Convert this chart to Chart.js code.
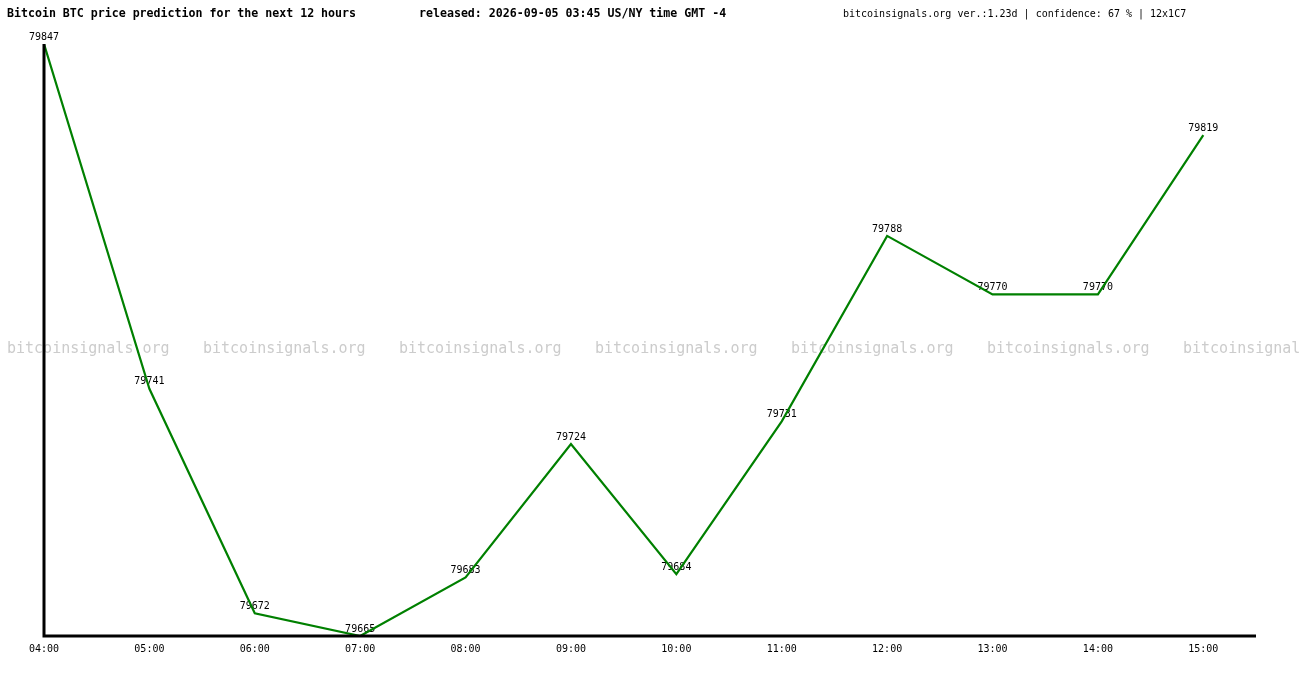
<!DOCTYPE html>
<html><head><meta charset="utf-8">
<script src="https://cdn.jsdelivr.net/npm/chart.js@4/dist/chart.umd.min.js"></script>
<style>html,body{margin:0;padding:0;background:#fff;}#wrap{width:1300px;height:680px;}</style>
</head><body><div id="wrap"><canvas id="c" width="1300" height="680"></canvas></div>
<script>
const hours = ["04:00","05:00","06:00","07:00","08:00","09:00","10:00","11:00","12:00","13:00","14:00","15:00"];
const prices = [79847,79741,79672,79665,79683,79724,79684,79731,79788,79770,79770,79819];
const titleLeft = "Bitcoin BTC price prediction for the next 12 hours";
const titleMid = "released: 2026-09-05 03:45 US/NY time GMT -4";
const titleRight = "bitcoinsignals.org ver.:1.23d | confidence: 67 % | 12x1C7";
const watermark = "bitcoinsignals.org";

const MONO = '"DejaVu Sans Mono", "Liberation Mono", monospace';

const bgPlugin = {
  id: 'bg',
  beforeDraw(chart) {
    const ctx = chart.ctx;
    ctx.save();
    ctx.fillStyle = '#fff';
    ctx.fillRect(0, 0, chart.width, chart.height);
    ctx.font = '15px ' + MONO;
    ctx.fillStyle = '#cccccc';
    ctx.textBaseline = 'middle';
    ctx.textAlign = 'left';
    for (let x = 7; x < chart.width; x += 196) ctx.fillText(watermark, x, 349);
    ctx.fillStyle = '#000';
    ctx.font = 'bold 11.6px ' + MONO;
    ctx.fillText(titleLeft, 7, 14);
    ctx.fillText(titleMid, 419, 14);
    ctx.font = '10px ' + MONO;
    ctx.fillText(titleRight, 843, 14);
    ctx.restore();
  },
  beforeDatasetsDraw(chart) {
    const ctx = chart.ctx;
    const meta = chart.getDatasetMeta(0);
    ctx.save();
    ctx.font = '10px ' + MONO;
    ctx.fillStyle = '#000';
    ctx.textAlign = 'center';
    ctx.textBaseline = 'middle';
    meta.data.forEach((p, i) => {
      ctx.fillText(String(prices[i]), p.x, p.y - 7);
    });
    ctx.restore();
  },
  afterDatasetsDraw(chart) {
    const ctx = chart.ctx, a = chart.chartArea;
    ctx.save();
    ctx.strokeStyle = '#000';
    ctx.lineWidth = 3;
    ctx.beginPath();
    ctx.moveTo(a.left, a.top);
    ctx.lineTo(a.left, a.bottom);
    ctx.lineTo(a.right, a.bottom);
    ctx.stroke();
    ctx.restore();
  }
};

new Chart(document.getElementById('c'), {
  type: 'line',
  data: {
    datasets: [{
      data: prices.map((v, i) => ({x: i, y: v})),
      borderColor: '#008000',
      borderWidth: 2.2,
      pointRadius: 0,
      tension: 0,
      fill: false
    }]
  },
  options: {
    responsive: false,
    animation: false,
    devicePixelRatio: 1,
    layout: {padding: {left: 44, right: 44, top: 44, bottom: 0}},
    plugins: {legend: {display: false}, tooltip: {enabled: false}},
    scales: {
      x: {
        type: 'linear', min: 0, max: 11.5,
        grid: {display: false, drawTicks: false},
        border: {display: false},
        afterFit(s) { s.height = 44; },
        afterBuildTicks(s) { s.ticks = hours.map((h, i) => ({value: i})); },
        ticks: {
          autoSkip: false, maxRotation: 0, padding: 7,
          color: '#000',
          font: {family: MONO, size: 10},
          callback: (v) => hours[v] !== undefined ? hours[v] : ''
        }
      },
      y: {
        display: false,
        min: Math.min(...prices), max: Math.max(...prices)
      }
    }
  },
  plugins: [bgPlugin]
});
</script></body></html>
